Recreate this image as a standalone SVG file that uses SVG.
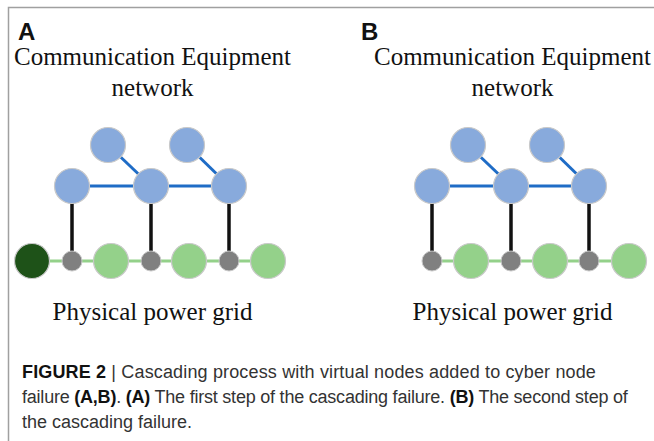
<svg xmlns="http://www.w3.org/2000/svg" width="654" height="441" viewBox="0 0 654 441">
<style>
.frame{fill:none;stroke:#a0a0a0;stroke-width:1.5}
.lbl{font-family:"Liberation Sans",Arial,sans-serif;font-weight:bold;font-size:24px;fill:#111}
.ttl{font-family:"Liberation Serif","Times New Roman",serif;font-size:25px;fill:#111;text-anchor:middle}
.cap{font-family:"Liberation Sans",Arial,sans-serif;font-size:18px;fill:#333}
.cap .b{font-weight:bold;fill:#111}
.cyber{fill:#88aadc;stroke:#c9c9c9;stroke-width:1.2}
.virt{fill:#808080;stroke:#c9c9c9;stroke-width:1}
.pow{fill:#94d18a;stroke:#c9c9c9;stroke-width:1.2}
.fail{fill:#1e5218;stroke:#c9c9c9;stroke-width:1.2}
.ce{stroke:#1f6cc6;stroke-width:3;fill:none}
.pe{stroke:#94d18a;stroke-width:3;fill:none}
.dep{stroke:#111;stroke-width:3.5;fill:none}
</style>
<rect width="654" height="441" fill="#fff"/>
<path class="frame" d="M8.5 441 V7.5 H654"/>

<g id="panelA-text">
<text class="lbl" x="18" y="40">A</text>
<text class="ttl" x="152.5" y="65">Communication Equipment</text>
<text class="ttl" x="152.5" y="96">network</text>
<text class="ttl" x="152.5" y="320">Physical power grid</text>
</g>
<g id="panelB-text">
<text class="lbl" x="361" y="40">B</text>
<text class="ttl" x="512.5" y="65">Communication Equipment</text>
<text class="ttl" x="512.5" y="96">network</text>
<text class="ttl" x="512.5" y="320">Physical power grid</text>
</g>

<g id="connectors">
<line class="ce" x1="72" y1="186" x2="229" y2="186"/>
<line class="ce" x1="108" y1="145" x2="151" y2="186"/>
<line class="ce" x1="187" y1="145" x2="229" y2="186"/>
<line class="dep" x1="72" y1="203" x2="72" y2="261"/>
<line class="dep" x1="151" y1="203" x2="151" y2="261"/>
<line class="dep" x1="229" y1="203" x2="229" y2="261"/>
<line class="pe" x1="32" y1="261" x2="268" y2="261"/>

<line class="ce" x1="432" y1="186" x2="589" y2="186"/>
<line class="ce" x1="468" y1="145" x2="511" y2="186"/>
<line class="ce" x1="547" y1="145" x2="589" y2="186"/>
<line class="dep" x1="432" y1="203" x2="432" y2="261"/>
<line class="dep" x1="511" y1="203" x2="511" y2="261"/>
<line class="dep" x1="589" y1="203" x2="589" y2="261"/>
<line class="pe" x1="432" y1="261" x2="628" y2="261"/>
</g>

<g id="A-c1"><circle class="cyber" cx="108" cy="145" r="17.5"/></g>
<g id="A-c2"><circle class="cyber" cx="187" cy="145" r="17.5"/></g>
<g id="A-c3"><circle class="cyber" cx="72" cy="186" r="17.5"/></g>
<g id="A-c4"><circle class="cyber" cx="151" cy="186" r="17.5"/></g>
<g id="A-c5"><circle class="cyber" cx="229" cy="186" r="17.5"/></g>
<g id="A-p0"><circle class="fail" cx="32" cy="261" r="17.5"/></g>
<g id="A-v1"><circle class="virt" cx="72" cy="261" r="10"/></g>
<g id="A-p1"><circle class="pow" cx="111" cy="261" r="17.5"/></g>
<g id="A-v2"><circle class="virt" cx="151" cy="261" r="10"/></g>
<g id="A-p2"><circle class="pow" cx="189" cy="261" r="17.5"/></g>
<g id="A-v3"><circle class="virt" cx="229" cy="261" r="10"/></g>
<g id="A-p3"><circle class="pow" cx="268" cy="261" r="17.5"/></g>

<g id="B-c1"><circle class="cyber" cx="468" cy="145" r="17.5"/></g>
<g id="B-c2"><circle class="cyber" cx="547" cy="145" r="17.5"/></g>
<g id="B-c3"><circle class="cyber" cx="432" cy="186" r="17.5"/></g>
<g id="B-c4"><circle class="cyber" cx="511" cy="186" r="17.5"/></g>
<g id="B-c5"><circle class="cyber" cx="589" cy="186" r="17.5"/></g>
<g id="B-v1"><circle class="virt" cx="432" cy="261" r="10"/></g>
<g id="B-p1"><circle class="pow" cx="471" cy="261" r="17.5"/></g>
<g id="B-v2"><circle class="virt" cx="511" cy="261" r="10"/></g>
<g id="B-p2"><circle class="pow" cx="550" cy="261" r="17.5"/></g>
<g id="B-v3"><circle class="virt" cx="589" cy="261" r="10"/></g>
<g id="B-p3"><circle class="pow" cx="629" cy="261" r="17.5"/></g>

<g id="caption">
<text class="cap" x="22" y="378" letter-spacing="0.15"><tspan class="b">FIGURE 2</tspan> | Cascading process with virtual nodes added to cyber node</text>
<text class="cap" x="22" y="403" letter-spacing="-0.22">failure <tspan class="b">(A,B)</tspan>. <tspan class="b">(A)</tspan> The first step of the cascading failure. <tspan class="b">(B)</tspan> The second step of</text>
<text class="cap" x="22" y="428">the cascading failure.</text>
</g>
</svg>
